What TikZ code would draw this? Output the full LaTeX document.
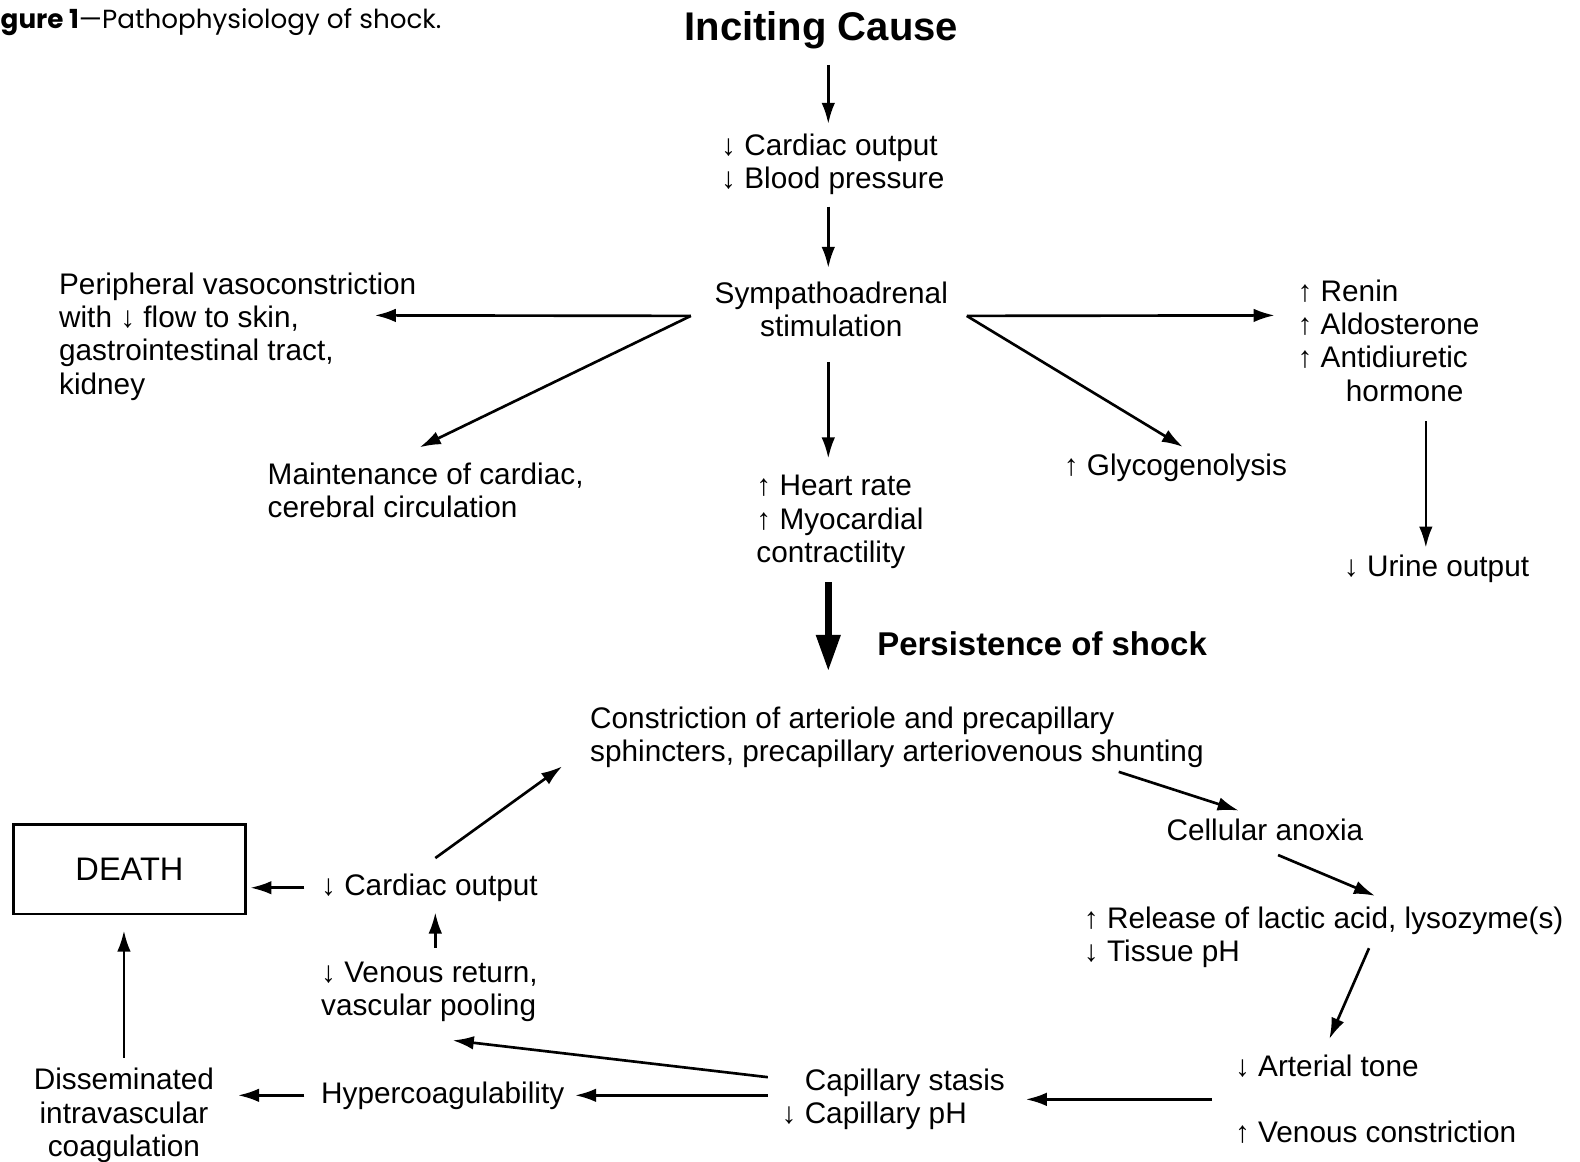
\documentclass[tikz,border=0pt]{standalone}
\usepackage{fontspec}
\setmainfont{Liberation Sans}
\newfontfamily\captfont{Poppins}
\usetikzlibrary{arrows.meta, positioning, calc}

\begin{document}
\begin{tikzpicture}[
    every node/.style={font=\fontsize{8.4}{9.4}\selectfont},
    txt/.style={inner sep=0pt, align=left, anchor=west},
    ctxt/.style={inner sep=0pt, align=center},
    head/.style={inner sep=0pt, font=\fontsize{11.3}{13}\selectfont\bfseries},
    endbox/.style={draw, line width=0.8pt, minimum width=2.31cm, minimum height=0.89cm, inner sep=0pt, font=\fontsize{9.2}{11}\selectfont},
    arrow/.style={-{Latex[length=2.1mm, width=1.35mm]}, line width=0.75pt},
    bigarrow/.style={-{Triangle[length=3.6mm, width=2.3mm]}, line width=1.9pt}
]
    \useasboundingbox (0,0) rectangle (15.68,-11.53);

    % caption
    \node[txt, font=\captfont\fontsize{7.4}{8}\selectfont] (capt) at (0,-0.22) {\textbf{gure 1}—Pathophysiology of shock.};

    % ==========================================
    % Top: acute response
    % ==========================================
    \node[head] (inciting) at (8.15,-0.30) {Inciting Cause};
    \node[txt] (cobp) at (7.15,-1.63) {↓ Cardiac output\\↓ Blood pressure};
    \node[ctxt] (symp) at (8.25,-3.07) {Sympathoadrenal\\stimulation};

    \node[txt] (periph) at (0.58,-3.34) {Peripheral vasoconstriction\\with ↓ flow to skin,\\gastrointestinal tract,\\kidney};
    \node[txt] (maint) at (2.65,-4.87) {Maintenance of cardiac,\\cerebral circulation};
    \node[txt] (heart) at (7.50,-5.18) {↑ Heart rate\\↑ Myocardial\\contractility};
    \node[txt] (glyco) at (10.55,-4.64) {↑ Glycogenolysis};
    \node[txt] (renin) at (12.87,-3.38) {↑ Renin\\↑ Aldosterone\\↑ Antidiuretic\\\hspace*{4.8mm}hormone};
    \node[txt] (urine) at (13.33,-5.64) {↓ Urine output};

    \coordinate (col) at (8.22,0);
    \coordinate (rcol) at (14.15,0);
    \coordinate (vleft) at ([xshift=-2.3mm, yshift=-0.65mm]symp.west);
    \coordinate (vright) at ([xshift=1.8mm, yshift=-0.65mm]symp.east);

    \draw[arrow] ([yshift=-1.5mm]inciting.south -| col) -- ([yshift=0.9mm]cobp.north -| col);
    \draw[arrow] ([yshift=-1.1mm]cobp.south -| col) -- ([yshift=1.3mm]symp.north -| col);
    \draw[arrow] ([yshift=-2.4mm]symp.south -| col) -- ([yshift=1.6mm]heart.north -| col);

    \draw[arrow] (vleft) -- ([xshift=-4.2mm, yshift=2.1mm]periph.east);
    \draw[arrow] (vleft) -- ([xshift=-0.6mm, yshift=1.5mm]maint.north);
    \draw[arrow] (vright) -- ([xshift=-2.2mm, yshift=2.5mm]renin.west);
    \draw[arrow] (vright) -- ([xshift=0.75mm, yshift=0.6mm]glyco.north);
    \draw[arrow] ([yshift=-1.9mm]renin.south -| rcol) -- ([yshift=0.6mm]urine.north -| rcol);

    % ==========================================
    % Bottom: vicious circle
    % ==========================================
    \node[txt, font=\fontsize{9.3}{11}\selectfont\bfseries] (persist) at (8.70,-6.39) {Persistence of shock};
    \node[txt] (constr) at (5.85,-7.32) {Constriction of arteriole and precapillary\\sphincters, precapillary arteriovenous shunting};
    \node[txt] (anoxia) at (11.57,-8.24) {Cellular anoxia};
    \node[txt] (lactic) at (10.75,-9.30) {↑ Release of lactic acid, lysozyme(s)\\↓ Tissue pH};
    \node[txt] (tone) at (12.25,-10.91) {↓ Arterial tone\\[3.3mm]↑ Venous constriction};
    \node[txt] (capill) at (7.75,-10.91) {\phantom{↓ }Capillary stasis\\↓ Capillary pH};
    \node[txt] (hyper) at (3.18,-10.87) {Hypercoagulability};
    \node[ctxt] (dic) at (1.23,-11.07) {Disseminated\\intravascular\\coagulation};
    \node[endbox] (death) at (1.285,-8.625) {DEATH};
    \node[txt] (cardiac) at (3.18,-8.81) {↓ Cardiac output};
    \node[txt] (venret) at (3.18,-9.84) {↓ Venous return,\\vascular pooling};

    \coordinate (lcol) at (4.32,0);

    \draw[bigarrow] ([yshift=-1.3mm]heart.south -| col) -- ([yshift=3.5mm]constr.north -| col);
    \draw[arrow] ([xshift=-8.5mm, yshift=-0.3mm]constr.south east) -- ([xshift=-2.6mm, yshift=0.8mm]anoxia.north);
    \draw[arrow] ([xshift=1.3mm, yshift=-1.3mm]anoxia.south) -- ([xshift=5.1mm, yshift=1.0mm]lactic.north);
    \draw[arrow] ([xshift=4.5mm, yshift=2.0mm]lactic.south) -- ([xshift=-4.6mm, yshift=1.5mm]tone.north);
    \draw[arrow] ([xshift=-2.2mm]tone.west) -- ([xshift=2mm]capill.east |- tone.west);
    \draw[arrow] ([xshift=-1.3mm, yshift=2.2mm]capill.west) -- ([xshift=2.3mm, yshift=-1.8mm]venret.south);
    \draw[arrow] ([xshift=-1.3mm]capill.west |- hyper.east) -- ([xshift=1mm]hyper.east);
    \draw[arrow] ([xshift=-1.6mm]hyper.west) -- ([xshift=2.3mm]dic.east |- hyper.west);
    \draw[arrow] ([yshift=1mm]dic.north) -- ([yshift=-1.5mm]death.south -| dic.north);
    \draw[arrow] ([xshift=-1.6mm]cardiac.west) -- ([xshift=0.3mm]death.east |- cardiac.west);
    \draw[arrow] ([yshift=1.3mm]venret.north -| lcol) -- ([yshift=-1.0mm]cardiac.south -| lcol);
    \draw[arrow] ([yshift=1.5mm]cardiac.north -| lcol) -- ([xshift=-2.7mm, yshift=-2.85mm]constr.west);

\end{tikzpicture}
\end{document}
